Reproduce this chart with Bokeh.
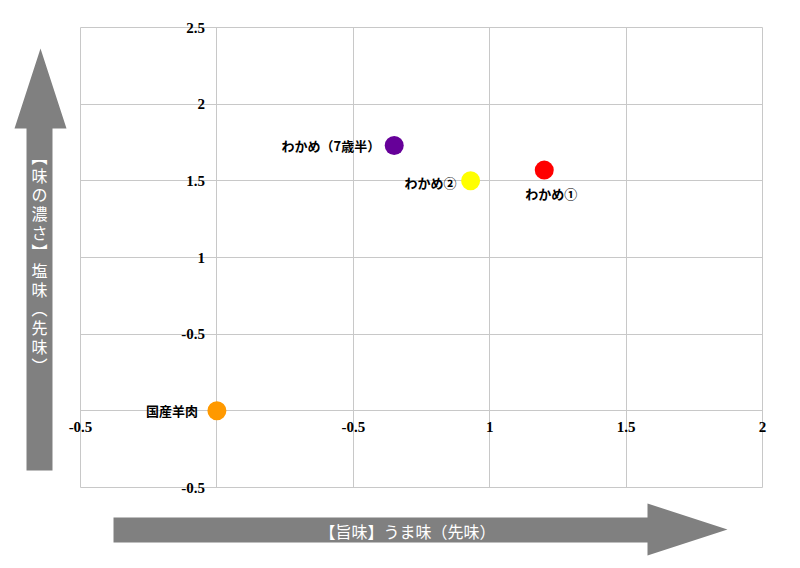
from bokeh.plotting import figure
from bokeh.models import Range1d, FixedTicker, PolyAnnotation, Label, ColumnDataSource, Grid
from bokeh.embed import file_html
from bokeh.resources import INLINE
from bokeh.core.properties import value, field

# ---- data ----
names = ["国産羊肉", "わかめ（7歳半）", "わかめ②", "わかめ①"]
umami = [0.0, 0.65, 0.93, 1.20]
salty = [0.0, 1.73, 1.50, 1.57]
colors = ["#FF9900", "#660099", "#FFFF00", "#FF0000"]

x_ticks = [-0.5, 0, 0.5, 1, 1.5, 2]
x_tick_labels = ["-0.5", "", "-0.5", "1", "1.5", "2"]
y_ticks = [-0.5, 0, 0.5, 1, 1.5, 2, 2.5]
y_tick_labels = ["-0.5", "", "-0.5", "1", "1.5", "2", "2.5"]

x_title = "【旨味】うま味（先味）"
y_title = "【味の濃さ】塩味（先味）"

# ---- layout / style ----
W, H = 800, 568
PLOT_L, PLOT_R, PLOT_T, PLOT_B = 80, 762, 27, 487   # pixel box of the chart area
label_dx = [-19, -14, -14, 7]
label_dy = [0, 0, 2, 23]
label_align = ["right", "right", "right", "center"]

GRID = "#c8c8c8"
ARROW = "#808080"
JP = "Noto Sans CJK JP"

x0, x1 = x_ticks[0], x_ticks[-1]
y0, y1 = y_ticks[0], y_ticks[-1]
sx = (PLOT_R - PLOT_L) / (x1 - x0)
sy = (PLOT_B - PLOT_T) / (y1 - y0)
x_range = Range1d(x0 - PLOT_L / sx, x1 + (W - PLOT_R) / sx)
y_range = Range1d(y0 - (H - PLOT_B) / sy, y1 + PLOT_T / sy)

p = figure(width=W, height=H, output_backend="svg", toolbar_location=None,
           x_range=x_range, y_range=y_range,
           min_border=0, min_border_left=0, min_border_right=0,
           min_border_top=0, min_border_bottom=0)
p.background_fill_color = "white"
p.border_fill_color = "white"
p.outline_line_color = None

for ax, ticks, labels in ((p.xaxis[0], x_ticks, x_tick_labels), (p.yaxis[0], y_ticks, y_tick_labels)):
    ax.ticker = FixedTicker(ticks=ticks)
    ax.major_label_overrides = {t: l for t, l in zip(ticks, labels)}
    ax.fixed_location = 0
    ax.axis_line_color = None
    ax.major_tick_line_color = None
    ax.minor_tick_line_color = None
    ax.major_tick_in = 0
    ax.major_tick_out = 0
    ax.major_label_text_font = "Liberation Serif"
    ax.major_label_text_font_size = "15px"
    ax.major_label_text_font_style = "bold"
    ax.major_label_text_color = "black"
p.xaxis.major_label_standoff = 11
p.yaxis.major_label_standoff = 12

p.xgrid.ticker = FixedTicker(ticks=x_ticks)
p.ygrid.ticker = FixedTicker(ticks=y_ticks)
p.grid.grid_line_color = GRID
p.grid.grid_line_width = 1
if "cross_bounds" in Grid.properties():
    p.xgrid.bounds = (x0, x1)
    p.xgrid.cross_bounds = (y0, y1)
    p.ygrid.bounds = (y0, y1)
    p.ygrid.cross_bounds = (x0, x1)
else:
    p.grid.visible = False
    p.segment(x0=x_ticks, y0=[y0] * len(x_ticks), x1=x_ticks, y1=[y1] * len(x_ticks),
              line_color=GRID, line_width=1)
    p.segment(x0=[x0] * len(y_ticks), y0=y_ticks, x1=[x1] * len(y_ticks), y1=y_ticks,
              line_color=GRID, line_width=1)

src = ColumnDataSource(dict(x=umami, y=salty, name=names, color=colors,
                            dx=label_dx, dy=label_dy, align=label_align))
p.scatter("x", "y", source=src, size=19, fill_color="color", line_color=None)
p.text(x="x", y="y", text="name", source=src, x_offset="dx", y_offset="dy",
       text_align=field("align"), text_baseline="middle",
       text_font=value(JP), text_font_size="13px", text_font_style="bold",
       text_color="black")

# ---- decorative arrows (canvas pixels) ----
v_arrow = PolyAnnotation(xs=[40, 66, 52, 52, 26, 26, 14], ys=[48, 128, 128, 470, 470, 128, 128],
                         xs_units="canvas", ys_units="canvas",
                         fill_color=ARROW, fill_alpha=1.0, line_color=None)
h_arrow = PolyAnnotation(xs=[113, 647, 647, 727, 647, 647, 113], ys=[517, 517, 503, 529, 555, 542, 542],
                         xs_units="canvas", ys_units="canvas",
                         fill_color=ARROW, fill_alpha=1.0, line_color=None)
p.add_layout(v_arrow)
p.add_layout(h_arrow)

p.add_layout(Label(x=407, y=530, x_units="canvas", y_units="canvas", text=x_title,
                   text_align="center", text_baseline="middle", text_color="white",
                   text_font=JP, text_font_size="16px"))

vmap = {"【": "︻", "】": "︼", "（": "︵", "）": "︶"}
v_text = "\n".join(vmap.get(c, c) for c in y_title)
p.add_layout(Label(x=39, y=260, x_units="canvas", y_units="canvas", text=v_text,
                   text_align="center", text_baseline="middle", text_color="white",
                   text_font=JP, text_font_size="16px", text_line_height=0.79))

open("out.html", "w").write(file_html(p, INLINE))
